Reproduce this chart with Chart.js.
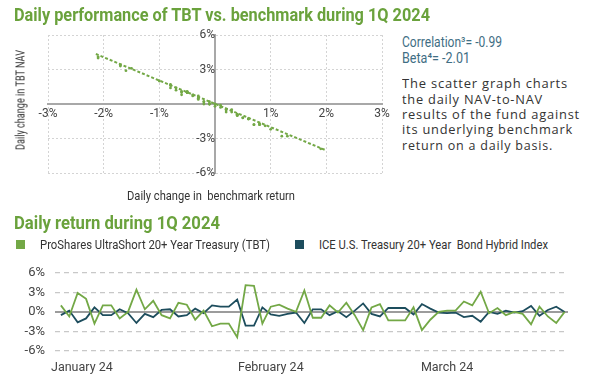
<!DOCTYPE html>
<html>
<head>
<meta charset="utf-8">
<script src="https://cdn.jsdelivr.net/npm/chart.js@4.4.1/dist/chart.umd.min.js"></script>
<style>
  body { margin: 0; background: #fff; width: 594px; height: 377px; position: relative; overflow: hidden;
         font-family: Roboto, "Liberation Sans", sans-serif; }
  canvas { position: absolute; }
  .t { position: absolute; white-space: pre; transform-origin: left center; }
  .title { color: #6aa23c; font-weight: bold; font-size: 18px; line-height: 20px; }
  .note { color: #3f6e84; font-size: 14px; line-height: 16px; }
  .para { color: #333; font-family: "Open Sans", sans-serif; font-size: 13px; line-height: 15px; letter-spacing: 0.8px; }
  .lab { color: #333; font-size: 13px; line-height: 15px; }
  .sq { position: absolute; width: 9px; height: 9px; }
</style>
</head>
<body>
<canvas id="scatter" width="400" height="210" style="left:0px;top:0px"></canvas>
<canvas id="returns" width="594" height="122" style="left:0px;top:255px"></canvas>

<div class="t title" id="title1" style="left:14px;top:5px">Daily performance of TBT vs. benchmark during 1Q 2024</div>
<div class="t lab" id="ytitle" style="left:20px;top:100px">Daily change in TBT NAV</div>
<div class="t lab" id="xtitle" style="left:127px;top:188px">Daily change in  benchmark return</div>
<div class="t note" id="corr" style="left:402px;top:34px">Correlation³= -0.99</div>
<div class="t note" id="beta" style="left:402px;top:50px">Beta⁴= -2.01</div>
<div class="t para" id="p1" style="left:402px;top:76px">The scatter graph charts</div>
<div class="t para" id="p2" style="left:402px;top:92px">the daily NAV-to-NAV</div>
<div class="t para" id="p3" style="left:402px;top:107px">results of the fund against</div>
<div class="t para" id="p4" style="left:402px;top:122px">its underlying benchmark</div>
<div class="t para" id="p5" style="left:402px;top:138px">return on a daily basis.</div>

<div class="t title" id="title2" style="left:14px;top:213px">Daily return during 1Q 2024</div>
<div class="sq" style="left:16px;top:240px;background:#73a846"></div>
<div class="t lab" id="leg1" style="left:40px;top:237px">ProShares UltraShort 20+ Year Treasury (TBT)</div>
<div class="sq" style="left:295px;top:240px;background:#1d4d5d"></div>
<div class="t lab" id="leg2" style="left:319px;top:237px">ICE U.S. Treasury 20+ Year  Bond Hybrid Index</div>

<script>
// daily returns (%) for the 61 trading days of 1Q 2024
const tbt = [1.0, -0.7, 2.9, 2.0, -1.8, 1.0, 1.0, -1.0, 0.0, 3.4,
             0.4, 1.7, -0.5, -1.0, 1.4, 1.1, -1.2, 0.2, -2.2, -1.8,
             -1.8, -3.9, 4.1, 4.0, -1.8, 0.8, 1.1, 0.5, 0.0, 3.3,
             -0.9, -0.9, 1.0, -0.1, 1.4, -0.5, -2.8, 0.7, 1.2, -1.3,
             -1.3, -1.3, 0.7, -2.8, -1.2, 0.0, 0.2, 0.2, 1.6, 1.0,
             3.1, -0.2, 0.6, -0.5, 0.0, -0.3, -1.9, 0.8, -0.7, -1.7, 0.0];
const benchmark = [-0.5, 0.2, -1.6, -1.0, 0.7, -0.5, -0.5, 0.4, -0.2, -1.7,
                   -0.3, -0.8, 0.3, 0.4, -0.7, -0.5, 0.5, -0.2, 1.0, 0.8,
                   0.8, 1.9, -2.1, -2.1, 0.7, -0.4, -0.6, -0.3, -0.1, -1.7,
                   0.4, 0.4, -0.5, 0.1, -0.8, 0.2, 1.3, -0.3, -0.7, 0.6,
                   0.6, 0.6, -0.4, 1.2, 0.5, -0.1, -0.2, -0.1, -0.8, -0.6,
                   -1.5, 0.0, -0.3, 0.2, -0.1, 0.1, 0.9, -0.6, 0.3, 0.8, 0.0];

// fitted line of the scatter graph (benchmark % -> TBT %)
const trendX = [-2.14, 1.98];
const trendY = [4.35, -4.0];

// month labels of the return chart and the trading-day index they sit at
const monthLabels = ['January 24', 'February 24', 'March 24'];
const monthPos = [2.5, 25, 46];

const GREEN = '#73a846';
const NAVY = '#1d4d5d';
const TICK = '#444';

// squeeze or stretch a text block to the width it has in the picture
function fit(id, w, rotate) {
  const el = document.getElementById(id);
  const s = w / el.getBoundingClientRect().width;
  if (rotate) {
    el.style.transformOrigin = 'center center';
    el.style.transform = 'translate(-50%,-50%) rotate(-90deg) scaleX(' + s + ')';
  } else {
    el.style.transform = 'scaleX(' + s + ')';
  }
}
fit('title1', 416);
fit('title2', 206);
fit('ytitle', 100, true);
fit('xtitle', 168);
fit('corr', 100);
fit('beta', 68);
fit('p1', 166);
fit('p2', 141);
fit('p3', 178);
fit('p4', 171);
fit('p5', 151);
fit('leg1', 230);
fit('leg2', 229);

Chart.defaults.font.family = 'Roboto, "Liberation Sans", sans-serif';
Chart.defaults.color = TICK;

new Chart(document.getElementById('scatter'), {
  type: 'scatter',
  data: {
    datasets: [
      {
        type: 'line',
        data: trendX.map((x, i) => ({x: x, y: trendY[i]})),
        borderColor: GREEN,
        borderWidth: 2,
        borderDash: [3, 2],
        pointRadius: 0,
        fill: false
      },
      {
        data: benchmark.map((x, i) => ({x: x, y: tbt[i]})),
        backgroundColor: GREEN,
        borderWidth: 0,
        pointRadius: 1.4
      }
    ]
  },
  options: {
    responsive: false,
    animation: false,
    events: [],
    layout: {padding: {left: 48, top: 35, right: 18, bottom: 37}},
    plugins: {legend: {display: false}, tooltip: {enabled: false}},
    scales: {
      x: {
        type: 'linear',
        position: {y: 0},
        min: -3,
        max: 3,
        ticks: {stepSize: 1, padding: 3, font: {size: 12}, callback: v => v === 0 ? '' : v + '%'},
        grid: {color: '#d4d4d4', lineWidth: 1, drawTicks: false},
        border: {color: '#a8a8a8', width: 2, dash: [2, 2]},
        afterFit: s => { s.height = 0; }
      },
      y: {
        position: {x: 0},
        min: -6,
        max: 6,
        ticks: {stepSize: 3, padding: 6, font: {size: 12}, callback: v => v === 0 ? '' : v + '%'},
        grid: {color: '#d4d4d4', lineWidth: 1, drawTicks: false},
        border: {color: '#a8a8a8', width: 2, dash: [2, 2]},
        afterFit: s => { s.width = 0; }
      }
    }
  }
});

new Chart(document.getElementById('returns'), {
  type: 'line',
  data: {
    datasets: [
      {
        label: 'ProShares UltraShort 20+ Year Treasury (TBT)',
        data: tbt.map((y, i) => ({x: i, y: y})),
        borderColor: GREEN,
        borderWidth: 1.8,
        pointRadius: 0,
        tension: 0
      },
      {
        label: 'ICE U.S. Treasury 20+ Year Bond Hybrid Index',
        data: benchmark.map((y, i) => ({x: i, y: y})),
        borderColor: NAVY,
        borderWidth: 1.8,
        pointRadius: 0,
        tension: 0
      }
    ]
  },
  options: {
    responsive: false,
    animation: false,
    events: [],
    layout: {padding: {left: 0, top: 11, right: 26, bottom: 0}},
    plugins: {legend: {display: false}, tooltip: {enabled: false}},
    scales: {
      x: {
        type: 'linear',
        min: -0.7,
        max: 60.4,
        afterBuildTicks: s => { s.ticks = monthPos.map(v => ({value: v})); },
        ticks: {
          autoSkip: false,
          maxRotation: 0,
          padding: 1,
          font: {size: 12.5},
          callback: v => monthLabels[monthPos.indexOf(v)] || ''
        },
        grid: {display: false},
        border: {display: false},
        afterFit: s => { s.height = 26; }
      },
      y: {
        min: -6,
        max: 6,
        ticks: {stepSize: 3, padding: 10, font: {size: 13}, callback: v => v + '%'},
        grid: {
          color: c => c.tick && c.tick.value === 0 ? '#9c9c9c' : '#c8c8c8',
          lineWidth: c => c.tick && c.tick.value === 0 ? 2 : 1.2,
          drawTicks: false
        },
        border: {display: false, dash: c => c.tick && c.tick.value === 0 ? [] : [5, 4]},
        afterFit: s => { s.width = 55; }
      }
    }
  }
});
</script>
</body>
</html>
